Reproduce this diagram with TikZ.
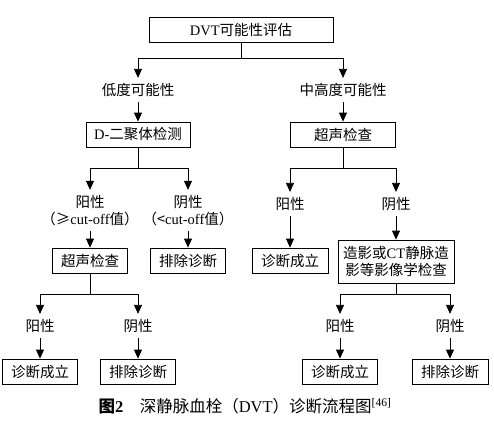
\documentclass[tikz,border=0pt]{standalone}
\usepackage{fontspec}
\setmainfont{Liberation Serif}
\newfontfamily\cjk{Noto Sans CJK SC}
\usetikzlibrary{arrows.meta}
\tikzset{
  box/.style={draw, minimum height=25pt, inner sep=0pt, font=\cjk\fontsize{14.5}{17}\selectfont},
  lbl/.style={inner sep=5pt, align=center, font=\cjk\fontsize{14.5}{17}\selectfont},
  arr/.style={-{Triangle[length=9pt,width=8pt]}},
}
\newcommand{\bnode}[4]{\node [box, minimum width=#3] (#1) at (#2) {#4}}
\newcommand{\tnode}[3]{\node [lbl] (#1) at (#2) {#3}}

\begin{document}
\begin{tikzpicture}[x=1pt, y=-1pt, line width=0.8pt]
\useasboundingbox (0,0) rectangle (494,424);

\bnode{top}{241,30}{184pt}{\textrm{DVT}可能性评估};

\tnode{low}{138,90}{低度可能性};
\tnode{mid}{343,90}{中高度可能性};

\bnode{dd}{138,134.5}{104pt}{\textrm{D-}二聚体检测};
\bnode{us1}{343,134.5}{105pt}{超声检查};

\tnode{lpos}{90,210.5}{阳性\\（≥\textrm{cut-off}值）};
\tnode{lneg}{188,210.5}{阴性\\（<\textrm{cut-off}值）};
\tnode{rpos}{290,204}{阳性};
\tnode{rneg}{396,204}{阴性};

\bnode{us2}{90,260.5}{75pt}{超声检查};
\bnode{ex1}{188,260.5}{75pt}{排除诊断};
\bnode{dx1}{290,260.5}{76pt}{诊断成立};
\node [box, minimum width=116pt, minimum height=43pt, align=center] (img) at (396,261.5)
  {造影或\textrm{CT}静脉造\\影等影像学检查};

\tnode{lpos2}{40,326}{阳性};
\tnode{lneg2}{138,326}{阴性};
\tnode{rpos2}{340,326}{阳性};
\tnode{rneg2}{450,326}{阴性};

\bnode{dx2}{40,371.5}{75pt}{诊断成立};
\bnode{ex2}{138,371.5}{75pt}{排除诊断};
\bnode{dx3}{340,371.5}{75pt}{诊断成立};
\bnode{ex3}{450,371.5}{76pt}{排除诊断};

% branch points
\coordinate (j0) at (241,58);
\coordinate (j1) at (138,168);
\coordinate (j2) at (343,168);
\coordinate (j3) at (90,294);
\coordinate (j4) at (396,294);

\draw (top.south) -- (j0);
\draw[arr] (j0) -| (low);
\draw[arr] (j0) -| (mid);
\draw[arr] (low) -- (dd);
\draw[arr] (mid) -- (us1);

\draw (dd.south) -- (j1);
\draw[arr] (j1) -| (lpos);
\draw[arr] (j1) -| (lneg);
\draw[arr] (lpos) -- (us2);
\draw[arr] (lneg) -- (ex1);

\draw (us1.south) -- (j2);
\draw[arr] (j2) -| (rpos);
\draw[arr] (j2) -| (rneg);
\draw[arr] (rpos) -- (dx1);
\draw[arr] (rneg) -- (img);

\draw (us2.south) -- (j3);
\draw[arr] (j3) -| (lpos2);
\draw[arr] (j3) -| (lneg2);
\draw[arr] (lpos2) -- (dx2);
\draw[arr] (lneg2) -- (ex2);

\draw (img.south) -- (j4);
\draw[arr] (j4) -| (rpos2);
\draw[arr] (j4) -| (rneg2);
\draw[arr] (rpos2) -- (dx3);
\draw[arr] (rneg2) -- (ex3);

\node [font=\cjk\fontsize{16.5}{19}\selectfont] (cap) at (245,406)
  {{\bfseries 图\textrm{2}}\quad 深静脉血栓（\textrm{DVT}）诊断流程图\textsuperscript{\textrm{[46]}}};

\end{tikzpicture}
\end{document}
